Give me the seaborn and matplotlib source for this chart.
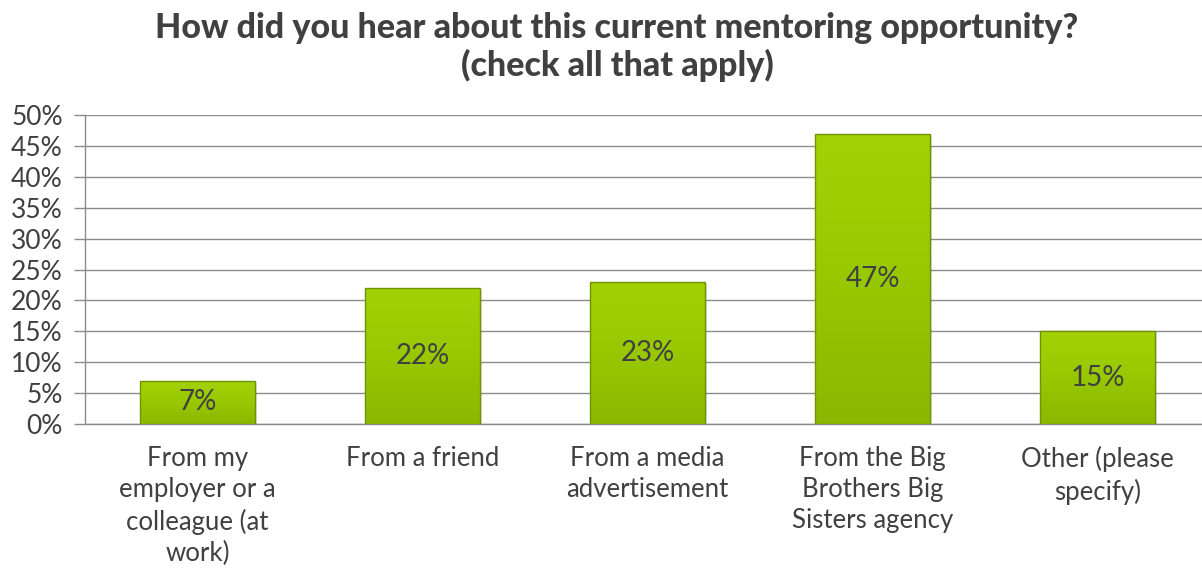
import numpy as np
import pandas as pd
import matplotlib
matplotlib.use("Agg")
import matplotlib.pyplot as plt
from matplotlib.colors import LinearSegmentedColormap
from matplotlib.ticker import FixedLocator, PercentFormatter
import seaborn as sns

categories = [
    "From my\nemployer or a\ncolleague (at\nwork)",
    "From a friend",
    "From a media\nadvertisement",
    "From the Big\nBrothers Big\nSisters agency",
    "Other (please\nspecify)",
]
values = [7, 22, 23, 47, 15]
value_labels = ["7%", "22%", "23%", "47%", "15%"]
y_ticks = [0, 5, 10, 15, 20, 25, 30, 35, 40, 45, 50]

title = "How did you hear about this current mentoring opportunity?\n(check all that apply)"

sns.set_theme(style="white")
plt.rcParams["font.family"] = ["Lato", "DejaVu Sans"]

text_color = "#404040"
grid_color = "#8c8c8c"

df = pd.DataFrame({"source": categories, "pct": values})

fig = plt.figure(figsize=(12.02, 5.71), dpi=100)
# axes spans x 85..1210 px, y 115..424 px (from top)
W, H = 1202, 571
ax = fig.add_axes([85 / W, (H - 424) / H, (1210 - 85) / W, (424 - 115) / H])

sns.barplot(data=df, x="source", y="pct", color="#99cc00", width=0.507,
            edgecolor="#6f9400", linewidth=1.0, ax=ax, zorder=3)

ax.set_ylim(0, 50)
ax.set_xlim(-0.5, len(categories) - 0.5)

# vertical green gradient inside each bar (lighter on top) with a soft drop shadow
cmap = LinearSegmentedColormap.from_list("g", ["#a2d206", "#98c800", "#8ab800"])
grad = np.linspace(0, 1, 256).reshape(-1, 1)
for p in ax.patches:
    x0, y0 = p.get_x(), p.get_y()
    w, h = p.get_width(), p.get_height()
    shadow = plt.Rectangle((x0 + 0.012, y0 - 0.5), w, h + 0.2, facecolor="#000000",
                           alpha=0.12, edgecolor="none", zorder=2)
    ax.add_patch(shadow)
    im = ax.imshow(grad, cmap=cmap, extent=(x0, x0 + w, y0, y0 + h), aspect="auto",
                   origin="upper", zorder=3.5, interpolation="bicubic")
    im.set_clip_path(p)
    p.set_zorder(4)
    p.set_facecolor("none")
ax.set_xlim(-0.5, len(categories) - 0.5)
ax.set_ylim(0, 50)

for i, (v, lab) in enumerate(zip(values, value_labels)):
    ax.text(i, v / 2, lab, ha="center", va="center", fontsize=20,
            color=text_color, zorder=6)

ax.yaxis.set_major_locator(FixedLocator(y_ticks))
ax.yaxis.set_major_formatter(PercentFormatter(decimals=0))
ax.grid(axis="y", color=grid_color, linewidth=1.0, zorder=0)
ax.set_axisbelow(True)

ax.set_xticks(range(len(categories)))
ax.set_xticklabels(categories, fontsize=18.5, color=text_color, linespacing=1.3)
ax.tick_params(axis="x", length=0, pad=16)
ax.set_xticks([i + 0.5 for i in range(len(categories))], minor=True)
ax.tick_params(axis="x", which="minor", length=8, color=grid_color, width=1)
ax.tick_params(axis="y", length=8, color=grid_color, width=1, labelsize=19,
               labelcolor=text_color, pad=8, left=True)
for lab in ax.get_yticklabels():
    lab.set_color(text_color)

for s in ["top", "right"]:
    ax.spines[s].set_visible(False)
ax.spines["left"].set_color(grid_color)
ax.spines["bottom"].set_color(grid_color)
ax.spines["left"].set_linewidth(1)
ax.spines["bottom"].set_linewidth(1)
ax.set_xlabel("")
ax.set_ylabel("")

fig.text(617 / W, 1 - 47 / H, title, ha="center", va="center", fontsize=24.5,
         fontweight="black", color=text_color, linespacing=1.2)

fig.savefig("out.png", dpi=100)
